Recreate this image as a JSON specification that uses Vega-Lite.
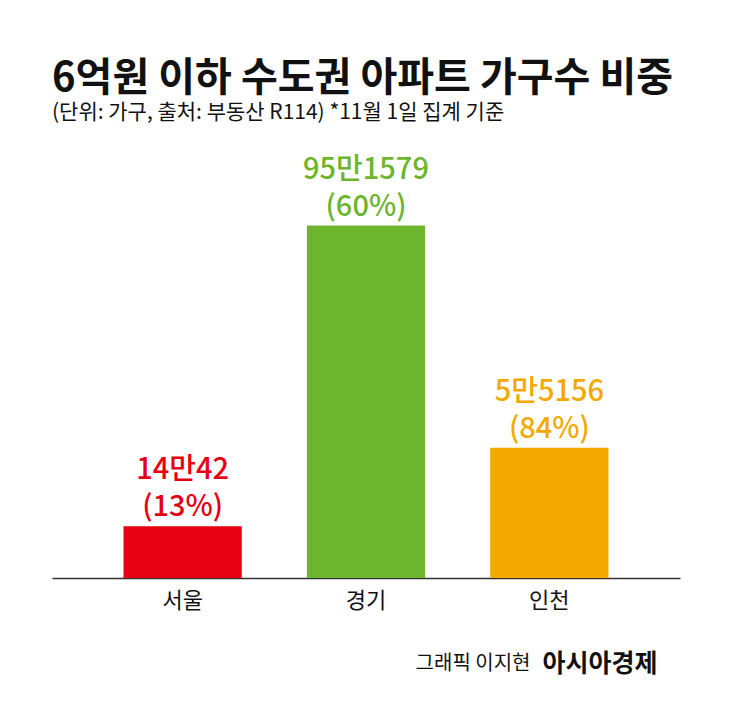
{
  "$schema": "https://vega.github.io/schema/vega-lite/v6.json",
  "width": 628,
  "height": 400,
  "autosize": "none",
  "padding": {"left": 52, "top": 178, "right": 54, "bottom": 132},
  "background": "white",
  "title": {
    "text": "6억원 이하 수도권 아파트 가구수 비중",
    "subtitle": "(단위: 가구, 출처: 부동산 R114)  *11월 1일 집계 기준",
    "anchor": "start",
    "frame": "group",
    "font": "Noto Sans CJK KR",
    "fontSize": 40,
    "fontWeight": "bold",
    "color": "#111111",
    "subtitleFont": "Noto Sans CJK KR",
    "subtitleFontSize": 21,
    "subtitleColor": "#111111",
    "subtitlePadding": 3,
    "offset": 33
  },
  "data": {
    "values": [
      {"region": "서울", "households": 14.0042, "label": "14만42", "share": "(13%)"},
      {"region": "경기", "households": 95.1579, "label": "95만1579", "share": "(60%)"},
      {"region": "인천", "households": 35.2, "label": "5만5156", "share": "(84%)"}
    ]
  },
  "encoding": {
    "x": {
      "field": "region",
      "type": "nominal",
      "sort": null,
      "scale": {"paddingInner": 0.355, "paddingOuter": 0.39},
      "axis": {
        "title": "그래픽 이지현",
        "titleFont": "Noto Sans CJK KR",
        "titleFontSize": 20,
        "titleFontWeight": "normal",
        "titleColor": "#111111",
        "titleAlign": "right",
        "titleAnchor": null,
        "titleX": 478,
        "titleY": 85,
        "titleBaseline": "middle",
        "labelAngle": 0,
        "labelFont": "Noto Sans CJK KR",
        "labelFontSize": 22,
        "labelColor": "#111111",
        "labelPadding": 12,
        "ticks": false,
        "domainColor": "#333333",
        "domainWidth": 1.5
      }
    },
    "y": {
      "field": "households",
      "type": "quantitative",
      "scale": {"domain": [0, 108]},
      "axis": {
        "title": "아시아경제",
        "titleFont": "Noto Sans CJK KR",
        "titleFontSize": 25,
        "titleFontWeight": "bold",
        "titleColor": "#111111",
        "titleAngle": 0,
        "titleAlign": "left",
        "titleBaseline": "middle",
        "titleAnchor": null,
        "titleX": 490,
        "titleY": 485,
        "labels": false,
        "ticks": false,
        "domain": false,
        "grid": false
      }
    },
    "color": {
      "field": "region",
      "type": "nominal",
      "scale": {"domain": ["서울", "경기", "인천"], "range": ["#e60012", "#6cb52d", "#f4a900"]},
      "legend": null
    }
  },
  "layer": [
    {"mark": {"type": "bar"}},
    {
      "mark": {
        "type": "text",
        "baseline": "bottom",
        "dy": -4,
        "font": "Noto Sans CJK KR",
        "fontSize": 29,
        "fontWeight": 500
      },
      "encoding": {"text": {"field": "share"}}
    },
    {
      "mark": {
        "type": "text",
        "baseline": "bottom",
        "dy": -41,
        "font": "Noto Sans CJK KR",
        "fontSize": 29,
        "fontWeight": 500
      },
      "encoding": {"text": {"field": "label"}}
    }
  ],
  "config": {"view": {"stroke": null}}
}
